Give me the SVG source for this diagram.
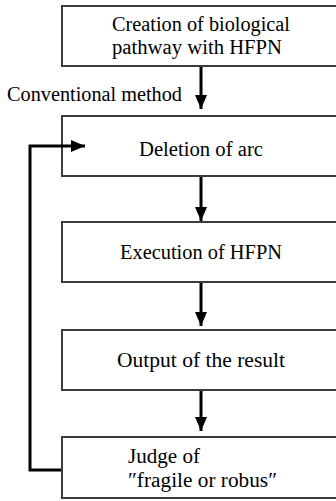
<svg xmlns="http://www.w3.org/2000/svg" width="336" height="501" viewBox="0 0 336 501">
<defs>
<marker id="ah" markerUnits="userSpaceOnUse" markerWidth="14" markerHeight="12" refX="14" refY="6" orient="auto">
<path d="M0,0 L14,6 L0,12 Z" fill="#000"/>
</marker>
<style>
.box{fill:#fff;stroke:#3c3c3c;stroke-width:2}
.t{font-family:"Liberation Serif","Times New Roman",serif;font-size:20px;fill:#000}
.c{fill:none;stroke:#000;stroke-width:3}
</style>
</defs>
<rect width="336" height="501" fill="#fff"/>
<text class="t" x="7" y="101" textLength="175" lengthAdjust="spacingAndGlyphs">Conventional method</text>
<g id="n1">
<rect class="box" x="62" y="6" width="290" height="60"/>
<text class="t" x="112" y="31" textLength="178" lengthAdjust="spacingAndGlyphs">Creation of biological</text>
<text class="t" x="112" y="54" textLength="170" lengthAdjust="spacingAndGlyphs">pathway with HFPN</text>
</g>
<g id="n2">
<rect class="box" x="62" y="116" width="290" height="60"/>
<text class="t" x="139" y="156" textLength="124" lengthAdjust="spacingAndGlyphs">Deletion of arc</text>
</g>
<g id="n3">
<rect class="box" x="62" y="222" width="290" height="60"/>
<text class="t" x="120" y="259" textLength="162" lengthAdjust="spacingAndGlyphs">Execution of HFPN</text>
</g>
<g id="n4">
<rect class="box" x="62" y="330" width="290" height="60"/>
<text class="t" x="117" y="367" textLength="168" lengthAdjust="spacingAndGlyphs">Output of the result</text>
</g>
<g id="n5">
<rect class="box" x="62" y="437" width="290" height="61"/>
<text class="t" x="128" y="463" textLength="72" lengthAdjust="spacingAndGlyphs">Judge of</text>
<text class="t" x="128" y="487" textLength="149" lengthAdjust="spacingAndGlyphs">″fragile or robus″</text>
</g>
<g id="connectors">
<line class="c" x1="201" y1="67" x2="201" y2="109" marker-end="url(#ah)"/>
<line class="c" x1="201" y1="177" x2="201" y2="221" marker-end="url(#ah)"/>
<line class="c" x1="201" y1="283" x2="201" y2="326" marker-end="url(#ah)"/>
<line class="c" x1="201" y1="391" x2="201" y2="431" marker-end="url(#ah)"/>
<polyline class="c" points="61,470 30,470 30,146 85,146" marker-end="url(#ah)"/>
</g>
</svg>
